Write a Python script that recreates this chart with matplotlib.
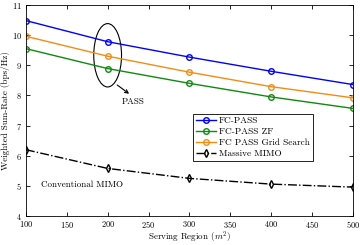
import matplotlib
matplotlib.use("Agg")
import matplotlib.pyplot as plt
from matplotlib.patches import Ellipse

plt.rcParams["font.family"] = ["cmr10", "DejaVu Serif"]
plt.rcParams["mathtext.fontset"] = "cm"
plt.rcParams["axes.formatter.use_mathtext"] = True
plt.rcParams["font.size"] = 6

# 横軸: 服务区域面积
regions = [100, 200, 300, 400, 500]
fc_pass = [10.48, 9.78, 9.27, 8.80, 8.36]
fc_pass_zf = [9.55, 8.89, 8.40, 7.95, 7.57]
fc_pass_grid = [9.96, 9.30, 8.77, 8.29, 7.92]
massive_mimo = [6.20, 5.58, 5.25, 5.06, 4.96]

fig, ax = plt.subplots(figsize=(3.6, 2.45), dpi=100)

ax.plot(regions, fc_pass, color="#0000ff", marker="o", markersize=4,
        markerfacecolor="none", linewidth=1.0, label="FC-PASS")
ax.plot(regions, fc_pass_zf, color="#0e8a0e", marker="o", markersize=4,
        markerfacecolor="none", linewidth=1.0, label="FC-PASS ZF")
ax.plot(regions, fc_pass_grid, color="#f28c14", marker="o", markersize=4,
        markerfacecolor="none", linewidth=1.0, label="FC PASS Grid Search")
ax.plot(regions, massive_mimo, color="black", linestyle="-.", marker="d",
        markersize=4, markerfacecolor="none", linewidth=1.0, label="Massive MIMO")

# 注釈
ax.add_patch(Ellipse((200, 9.33), 34, 2.1, fill=False, edgecolor="black", linewidth=0.8))
ax.annotate("", xy=(229, 8.0), xytext=(209, 8.4),
            arrowprops=dict(arrowstyle="->", color="black", lw=0.8))
ax.text(231, 7.78, "PASS", ha="center", va="center", fontsize=6.5)
ax.text(169, 5.03, "Conventional MIMO", ha="center", va="center", fontsize=6.5)

ax.set_xlim(100, 500)
ax.set_ylim(4, 11)
ax.set_xticks(range(100, 501, 50))
ax.set_yticks(range(4, 12))
ax.tick_params(direction="in", top=True, right=True, length=3, width=0.6, labelsize=6)
ax.tick_params(axis="x", pad=2)
ax.tick_params(axis="y", pad=3)
for s in ax.spines.values():
    s.set_linewidth(0.6)

ax.set_xlabel("Serving Region ($m^2$)", fontsize=6.5, labelpad=0)
ax.set_ylabel("Weighted Sum-Rate (bps/Hz)", fontsize=6.5, labelpad=1)

leg = ax.legend(loc="lower right", bbox_to_anchor=(0.877, 0.262), fontsize=6.7,
                fancybox=False, edgecolor="black", framealpha=1,
                handlelength=2.2, handletextpad=0.3, borderpad=0.3,
                labelspacing=0.25, borderaxespad=0)
leg.get_frame().set_linewidth(0.6)

fig.subplots_adjust(left=0.072, right=0.98, top=0.98, bottom=0.118)
fig.savefig("out.png", dpi=100)
